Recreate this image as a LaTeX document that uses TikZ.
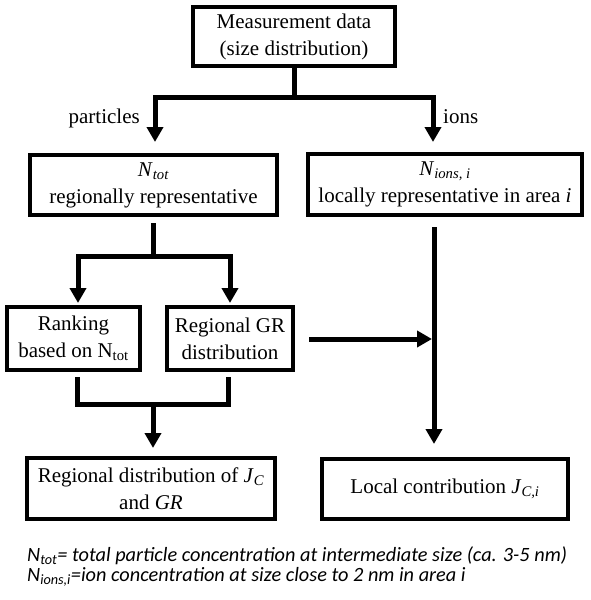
\documentclass[tikz,border=0pt]{standalone}
\usepackage{fontspec}
\setmainfont{Liberation Serif}
\newfontfamily\notefont{Carlito}
\usetikzlibrary{arrows.meta}
\tikzset{
  box/.style={draw, line width=3.5pt, align=center, inner sep=0pt,
    font=\fontsize{21}{27}\selectfont},
  conn/.style={line width=5pt, line join=miter},
  arr/.style={conn, -{Triangle[width=16pt,length=15pt]}},
  lbl/.style={font=\fontsize{21}{25}\selectfont, inner sep=0pt},
  note/.style={font=\notefont\itshape\fontsize{20.3}{24}\selectfont, inner sep=0pt, anchor=base west}
}
\begin{document}
\begin{tikzpicture}[x=1pt,y=-1pt]
\useasboundingbox (0,0) rectangle (591,600);
% boxes
\node[box, minimum width=202pt, minimum height=59pt] (top) at (294,36.5)
  {Measurement data\\(size distribution)};
\node[box, minimum width=247pt, minimum height=60pt] (ntot) at (153.5,185)
  {\textit{N}\textsubscript{\textit{tot}}\\regionally representative};
\node[box, minimum width=274pt, minimum height=61pt] (nions) at (445,184.5)
  {\textit{N}\textsubscript{\textit{ions, i}}\\locally representative in area \textit{i}};
\node[box, minimum width=133pt, minimum height=63pt] (rank) at (73.5,338.5)
  {Ranking\\based on N\textsubscript{tot}};
\node[box, minimum width=126pt, minimum height=63pt] (gr) at (230,338.5)
  {Regional GR\\distribution};
\node[box, minimum width=248pt, minimum height=61pt] (regd) at (151,488.5)
  {Regional distribution of \textit{J}\textsubscript{\textit{C}}\\and \textit{GR}};
\node[box, minimum width=246pt, minimum height=60pt] (local) at (445,489)
  {Local contribution \textit{J}\textsubscript{\textit{C,i}}};
% labels
\node[lbl, anchor=base east] (lp) at (140,123) {particles};
\node[lbl, anchor=base west] (li) at (443,123) {ions};
% junction coordinates
\coordinate (j1) at (294,97);
\coordinate (pa) at (155,142);
\coordinate (ia) at (433,142);
\coordinate (s2) at (153,223);
\coordinate (j2) at (153,256);
\coordinate (ra) at (78,303);
\coordinate (ga) at (230,303);
\coordinate (n1) at (434,227);
\coordinate (rb) at (434,444);
\coordinate (g1) at (309,339);
\coordinate (g2) at (432,339);
\coordinate (b1) at (77,377);
\coordinate (bl) at (77,404);
\coordinate (br) at (228,404);
\coordinate (b2) at (228,377);
\coordinate (jb) at (153,404);
\coordinate (bt) at (153,448);
% connectors
\draw[conn] (top.south) -- (j1);
\draw[arr] (j1) -| (pa);
\draw[arr] (j1) -| (ia);
\draw[conn] (s2) -- (j2);
\draw[arr] (j2) -| (ra);
\draw[arr] (j2) -| (ga);
\draw[arr] (n1) -- (rb);
\draw[arr] (g1) -- (g2);
\draw[conn] (b1) -- (bl) -- (br) -- (b2);
\draw[arr] (jb) -- (bt);
% notes
\node[note] (f1) at (27,561) {N\textsubscript{tot}= total particle concentration at intermediate size (ca. 3-5 nm)};
\node[note] (f2) at (27,581) {N\textsubscript{ions,i}=ion concentration at size close to 2 nm in area i};
\end{tikzpicture}
\end{document}
